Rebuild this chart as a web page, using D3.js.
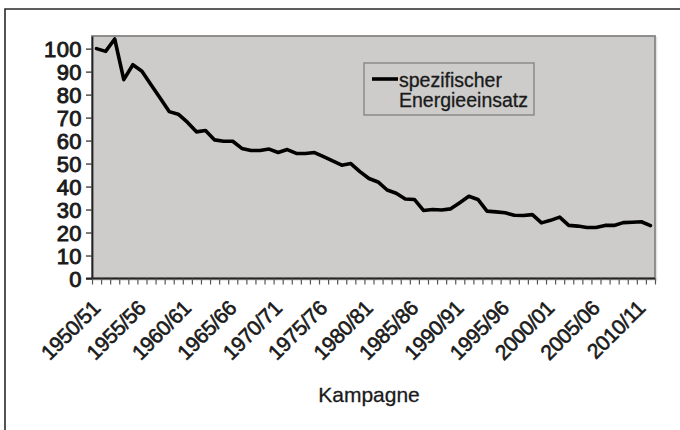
<!DOCTYPE html>
<html>
<head>
<meta charset="utf-8">
<script src="https://cdn.jsdelivr.net/npm/d3@7"></script>
<style>
  body { margin: 0; background: #fff; }
  svg text { font-family: "Liberation Sans", Arial, sans-serif; fill: #1a1a1a; }
</style>
</head>
<body>
<svg id="chart" width="680" height="430"></svg>
<script>
'use strict';

// campaigns (one per category)
const campaigns = [
    "1950/51", "1951/52", "1952/53", "1953/54", "1954/55", "1955/56", "1956/57", "1957/58",
    "1958/59", "1959/60", "1960/61", "1961/62", "1962/63", "1963/64", "1964/65", "1965/66",
    "1966/67", "1967/68", "1968/69", "1969/70", "1970/71", "1971/72", "1972/73", "1973/74",
    "1974/75", "1975/76", "1976/77", "1977/78", "1978/79", "1979/80", "1980/81", "1981/82",
    "1982/83", "1983/84", "1984/85", "1985/86", "1986/87", "1987/88", "1988/89", "1989/90",
    "1990/91", "1991/92", "1992/93", "1993/94", "1994/95", "1995/96", "1996/97", "1997/98",
    "1998/99", "1999/00", "2000/01", "2001/02", "2002/03", "2003/04", "2004/05", "2005/06",
    "2006/07", "2007/08", "2008/09", "2009/10", "2010/11", "2011/12"
];

// spezifischer Energieeinsatz (index, 1950/51 = 100)
const energy = [
    100, 98.8, 104.2, 86.5, 93, 90.2, 84.3, 78.5, 72.6, 71.5,
    68, 63.8, 64.4, 60.3, 59.7, 59.7, 56.6, 55.7, 55.7, 56.3,
    54.8, 56.1, 54.4, 54.4, 54.8, 53, 51.2, 49.3, 50, 46.5,
    43.5, 42, 38.5, 37.1, 34.6, 34.4, 29.6, 30, 29.8, 30.3,
    33, 35.8, 34.4, 29.3, 29, 28.6, 27.5, 27.4, 27.8, 24.2,
    25.3, 26.7, 23.1, 22.8, 22.2, 22.2, 23.1, 23.1, 24.3, 24.5,
    24.7, 23
];

const tickLabels = ["1950/51", "1955/56", "1960/61", "1965/66", "1970/71", "1975/76",
    "1980/81", "1985/86", "1990/91", "1995/96", "2000/01", "2005/06", "2010/11"];
const yTicks = [0, 10, 20, 30, 40, 50, 60, 70, 80, 90, 100];
const seriesName = ["spezifischer", "Energieeinsatz"];
const axisTitle = "Kampagne";

(function () {
    const svg = d3.select("#chart");
    const plot = { left: 92, right: 655, top: 36, bottom: 278.5 };

    const x = d3.scaleBand()
        .domain(campaigns)
        .range([plot.left, plot.right])
        .padding(0);
    const xEdge = d3.scaleLinear()
        .domain([0, campaigns.length])
        .range([plot.left, plot.right]);
    const y = d3.scaleLinear()
        .domain([0, 105.5])
        .range([plot.bottom, plot.top]);

    // outer frame (only top and left edge visible)
    svg.append("path")
        .attr("d", "M5,430 L5,9 L680,9")
        .attr("fill", "none")
        .attr("stroke", "#2a2a2a")
        .attr("stroke-width", 1.6);

    // plot area
    svg.append("rect")
        .attr("x", plot.left + 1.5)
        .attr("y", plot.top + 1.5)
        .attr("width", plot.right - plot.left)
        .attr("height", plot.bottom - plot.top)
        .attr("fill", "none")
        .attr("stroke", "#e2e2e2")
        .attr("stroke-width", 1.5);
    svg.append("rect")
        .attr("x", plot.left)
        .attr("y", plot.top)
        .attr("width", plot.right - plot.left)
        .attr("height", plot.bottom - plot.top)
        .attr("fill", "#cdcccb")
        .attr("stroke", "#868686")
        .attr("stroke-width", 1.8);

    // y axis
    const yAxis = svg.append("g")
        .attr("transform", `translate(${plot.left},0)`)
        .call(d3.axisLeft(y).tickValues(yTicks).tickSize(6).tickPadding(4).tickSizeOuter(0));
    yAxis.select(".domain").attr("stroke", "#222").attr("stroke-width", 1.8);
    yAxis.selectAll(".tick line").attr("stroke", "#444").attr("stroke-width", 1.4);
    yAxis.selectAll(".tick text")
        .attr("font-size", 22)
        .attr("font-family", "Liberation Sans, Arial, sans-serif")
        .attr("fill", "#1a1a1a")
        .attr("stroke", "#1a1a1a")
        .attr("stroke-width", 0.9)
        .attr("letter-spacing", 0.4)
        .attr("dy", "0.36em");

    // x axis (tick marks at category edges)
    const xAxis = svg.append("g")
        .attr("transform", `translate(0,${plot.bottom})`)
        .call(d3.axisBottom(xEdge)
            .tickValues(d3.range(0, campaigns.length + 1))
            .tickSize(6)
            .tickSizeOuter(0)
            .tickFormat(""));
    xAxis.select(".domain").attr("stroke", "#222").attr("stroke-width", 1.8)
        .attr("d", `M${plot.left - 6},0H${plot.right}`);
    xAxis.selectAll(".tick line").attr("stroke", "#555").attr("stroke-width", 1.2);

    // rotated category labels
    svg.append("g")
        .selectAll("text")
        .data(tickLabels)
        .enter()
        .append("text")
            .attr("transform", (d) => {
                const ax = x(d) + x.bandwidth() / 2 + 5;
                return `translate(${ax},${plot.bottom + 31}) rotate(-45)`;
            })
            .attr("text-anchor", "end")
            .attr("font-size", 21)
            .attr("letter-spacing", -0.4)
            .attr("stroke", "#1a1a1a")
            .attr("stroke-width", 0.6)
            .text((d) => d);

    // axis title
    svg.append("text")
        .attr("x", 369)
        .attr("y", 402)
        .attr("text-anchor", "middle")
        .attr("font-size", 21)
        .attr("stroke", "#1a1a1a")
        .attr("stroke-width", 0.3)
        .text(axisTitle);

    // series line
    const line = d3.line()
        .x((d, i) => x(campaigns[i]) + x.bandwidth() / 2)
        .y((d) => y(d));
    svg.append("path")
        .datum(energy)
        .attr("d", line)
        .attr("fill", "none")
        .attr("stroke", "#000")
        .attr("stroke-width", 3.6)
        .attr("stroke-linejoin", "round")
        .attr("stroke-linecap", "round");

    // legend
    const legend = svg.append("g");
    legend.append("rect")
        .attr("x", 364)
        .attr("y", 63)
        .attr("width", 170)
        .attr("height", 52)
        .attr("fill", "none")
        .attr("stroke", "#8a8a8a")
        .attr("stroke-width", 1.5);
    legend.append("line")
        .attr("x1", 372)
        .attr("x2", 398)
        .attr("y1", 79)
        .attr("y2", 79)
        .attr("stroke", "#000")
        .attr("stroke-width", 3.6);
    legend.selectAll("text.leg")
        .data(seriesName)
        .enter()
        .append("text")
            .attr("class", "leg")
            .attr("x", 399)
            .attr("y", (d, i) => 87 + i * 20)
            .attr("font-size", 19.5)
            .attr("stroke", "#1a1a1a")
            .attr("stroke-width", 0.3)
            .text((d) => d);
})();
</script>
</body>
</html>
